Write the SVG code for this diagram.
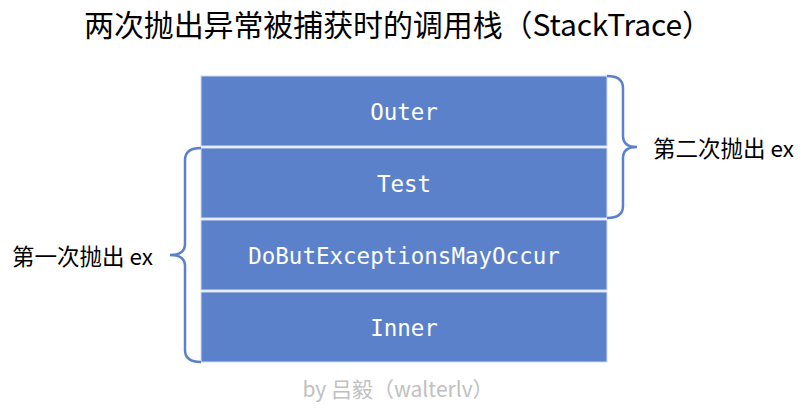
<svg xmlns="http://www.w3.org/2000/svg" width="811" height="411" viewBox="0 0 811 411">
<style>
.box{fill:#5b81cb;stroke:#d0dbf2;stroke-width:1}
.lbl{font-family:"DejaVu Sans Mono","Liberation Mono",monospace;font-size:22.5px;fill:#ffffff;text-anchor:middle}
.cjk{font-family:"Noto Sans CJK SC","Noto Sans",sans-serif;fill:#000000}
.brace{fill:none;stroke:#5b81cb;stroke-width:2.5}
</style>
<rect width="811" height="411" fill="#ffffff"/>
<text class="cjk" x="84" y="36" font-size="30" textLength="628" lengthAdjust="spacing">两次抛出异常被捕获时的调用栈（StackTrace）</text>
<g id="outer"><rect class="box" x="201" y="76" width="406" height="70"/><text class="lbl" x="404" y="120">Outer</text></g>
<g id="test"><rect class="box" x="201" y="148" width="406" height="70"/><text class="lbl" x="404" y="192">Test</text></g>
<g id="dobut"><rect class="box" x="201" y="220" width="406" height="70"/><text class="lbl" x="404" y="264">DoButExceptionsMayOccur</text></g>
<g id="inner"><rect class="box" x="201" y="292" width="406" height="70"/><text class="lbl" x="404" y="336">Inner</text></g>
<g id="connectors">
<path class="brace" d="M607,76 Q623,76 623,88 L623,136 Q623,147 637,147 Q623,147 623,158 L623,206 Q623,218 607,218"/>
<path class="brace" d="M201,148 Q185,148 185,160 L185,244 Q185,255 170,255 Q185,255 185,266 L185,350 Q185,362 201,362"/>
</g>
<g id="label2"><text class="cjk" x="653" y="157" font-size="22.5">第二次抛出 ex</text></g>
<g id="label1"><text class="cjk" x="12" y="265" font-size="22.5">第一次抛出 ex</text></g>
<text x="398" y="397" font-family="Noto Sans CJK SC,Noto Sans,sans-serif" font-size="21" fill="#c0c0c0" text-anchor="middle">by 吕毅（walterlv）</text>
</svg>
